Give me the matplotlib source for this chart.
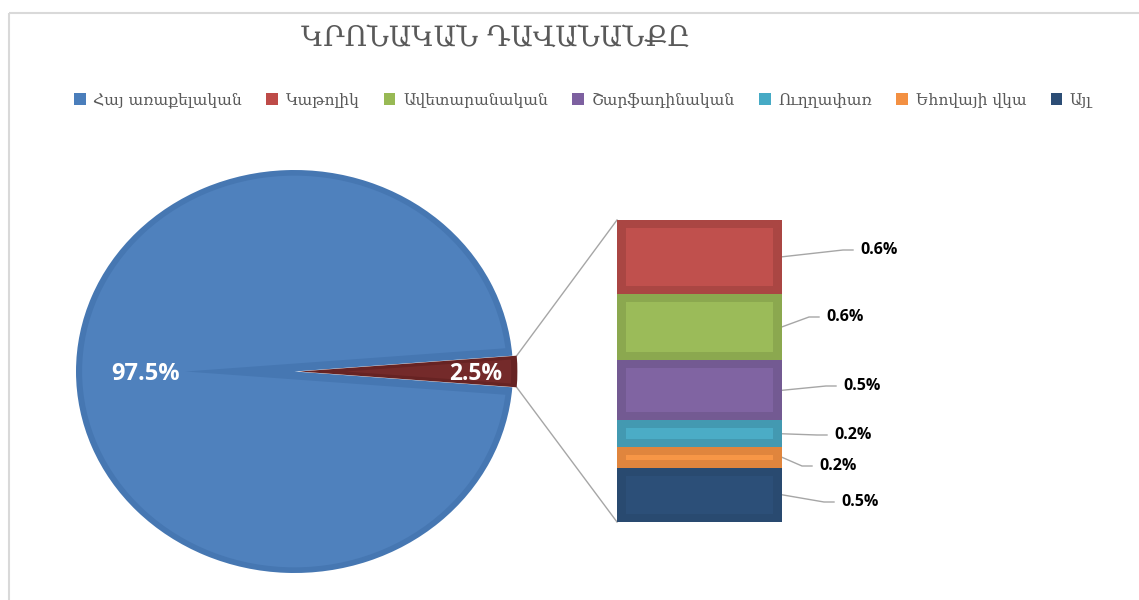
import numpy as np
import matplotlib
matplotlib.use("Agg")
import matplotlib.pyplot as plt
from matplotlib.patches import Wedge, Ellipse, Rectangle, Patch

# ---- data ----
title = "ԿՐՈՆԱԿԱՆ ԴԱՎԱՆԱՆՔԸ"
main_label = "Հայ առաքելական"
main_value = 97.5
other_labels = ["Կաթոլիկ", "Ավետարանական", "Շարֆադինական", "Ուղղափառ", "Եհովայի վկա", "Այլ"]
other_values = [0.61, 0.551, 0.50, 0.22, 0.17, 0.451]

# ---- style ----
main_fill, main_edge = "#4F81BD", "#4677B2"
agg_fill, agg_edge = "#742A2A", "#672323"
bar_fill = ["#C0504D", "#9BBB59", "#8064A2", "#4BACC6", "#F79646", "#2C4F78"]
bar_edge = ["#AA4643", "#8BA84F", "#735A92", "#4399B1", "#E0853D", "#294A70"]
legend_cols = ["#4A7EBB", "#BE4B48", "#98B954", "#7D60A0", "#46AAC5", "#F39042", "#2C4D75"]
arm_fonts = ["DejaVu Serif", "DejaVu Sans"]
lab_font = ["Open Sans", "DejaVu Sans"]
line_col = "#A6A6A6"

W, H = 1139, 600
fig = plt.figure(figsize=(W / 100, H / 100), dpi=100)
ax = fig.add_axes([0, 0, 1, 1])
ax.set_xlim(0, W)
ax.set_ylim(H, 0)
ax.axis("off")


def to_px(axes, x, y):
    dx, dy = axes.transData.transform((x, y))
    return dx, H - dy


# ---- pie (slightly elliptical, as in the reference) ----
px0, px1, py0, py1 = 76, 513, 170, 573
pax = fig.add_axes([px0 / W, (H - py1) / H, (px1 - px0) / W, (py1 - py0) / H])
other_sum = sum(other_values)
total = main_value + other_sum
half = other_sum / total * 360 / 2
expl = 0.02
wedges, _ = pax.pie([main_value, other_sum], colors=[main_edge, agg_edge],
                    startangle=half, counterclock=True, explode=[0, expl],
                    wedgeprops=dict(linewidth=0))
pax.set_xlim(-1, 1)
pax.set_ylim(-1, 1)
pax.set_aspect("auto")
pax.axis("off")

# bevel insets
d = 0.028
s = d / np.sin(np.radians(half))
clip1 = Ellipse((0, 0), 2 * (1 - d), 2 * (1 - d), transform=pax.transData)
inner_main = Wedge((-1.4 * s, 0), 1 + 1.4 * s + 0.1, wedges[0].theta1, wedges[0].theta2,
                   facecolor=main_fill, linewidth=0)
pax.add_patch(inner_main)
inner_main.set_clip_path(clip1)
clip2 = Ellipse((expl, 0), 2 * (1 - d), 2 * (1 - d), transform=pax.transData)
inner_agg = Wedge((expl + s * 0.6, 0), 1, wedges[1].theta1, wedges[1].theta2,
                  facecolor=agg_fill, linewidth=0)
pax.add_patch(inner_agg)
inner_agg.set_clip_path(clip2)

pax.text(-0.68, -0.01, f"{main_value / total * 100:.1f}%", color="white", fontsize=17,
         fontweight="bold", family=lab_font, ha="center", va="center")
pax.text(0.83, -0.01, f"{other_sum / total * 100:.1f}%", color="white", fontsize=16.5,
         fontweight="bold", family=lab_font, ha="center", va="center")

# ---- bar of pie ----
bx0, bx1, by0, by1 = 617, 782, 220, 522
bax = fig.add_axes([bx0 / W, (H - by1) / H, (bx1 - bx0) / W, (by1 - by0) / H])
bax.set_xlim(-0.5, 0.5)
bax.set_ylim(other_sum, 0)
bax.axis("off")
bottoms = np.concatenate([[0], np.cumsum(other_values)[:-1]])
bax.bar([0] * len(other_values), other_values, bottom=bottoms, width=1.0,
        color=bar_edge, linewidth=0)
ins_y = 8 * other_sum / (by1 - by0)
ins_x = 9 / (bx1 - bx0)
bax.bar([0] * len(other_values), np.array(other_values) - 2 * ins_y,
        bottom=bottoms + ins_y, width=1.0 - 2 * ins_x, color=bar_fill, linewidth=0)

# connector lines pie -> bar
th = np.radians(half)
p_top = to_px(pax, expl + np.cos(th), np.sin(th))
p_bot = to_px(pax, expl + np.cos(th), -np.sin(th))
c_top = to_px(bax, -0.5, 0)
c_bot = to_px(bax, -0.5, other_sum)
ax.plot([p_top[0], c_top[0]], [p_top[1], c_top[1]], color=line_col, lw=1)
ax.plot([p_bot[0], c_bot[0]], [p_bot[1], c_bot[1]], color=line_col, lw=1)

# bar labels with leader lines
label_pos = [(860, 250), (826, 317), (843, 386), (834, 435), (819, 466), (841, 502)]
for v, b, (lx, ly) in zip(other_values, bottoms, label_pos):
    ex, ey = to_px(bax, 0.5, b + v / 2)
    ax.plot([ex, lx - 17, lx - 7], [ey, ly, ly], color=line_col, lw=1)
    ax.text(lx, ly, f"{v / total * 100:.1f}%", fontsize=11.5, fontweight="bold",
            family=lab_font, ha="left", va="center", color="black")

# title
ax.text(496, 38, title, fontsize=20, color="#595959", family=arm_fonts,
        ha="center", va="center")

# legend
labels = [main_label] + other_labels
handles = [Patch(facecolor=c, edgecolor="none") for c in legend_cols]
fig.legend(handles, labels, loc="center", bbox_to_anchor=(583 / W, 1 - 100 / H),
           ncol=7, frameon=False, handlelength=0.75, handleheight=0.75,
           handletextpad=0.5, columnspacing=1.55, labelcolor="#595959",
           prop=dict(family=arm_fonts, size=11.2))

# chart frame
ax.add_patch(Rectangle((9, 13), W, H, fill=False, edgecolor="#D9D9D9", lw=1.5))

fig.savefig("out.png", dpi=100)
